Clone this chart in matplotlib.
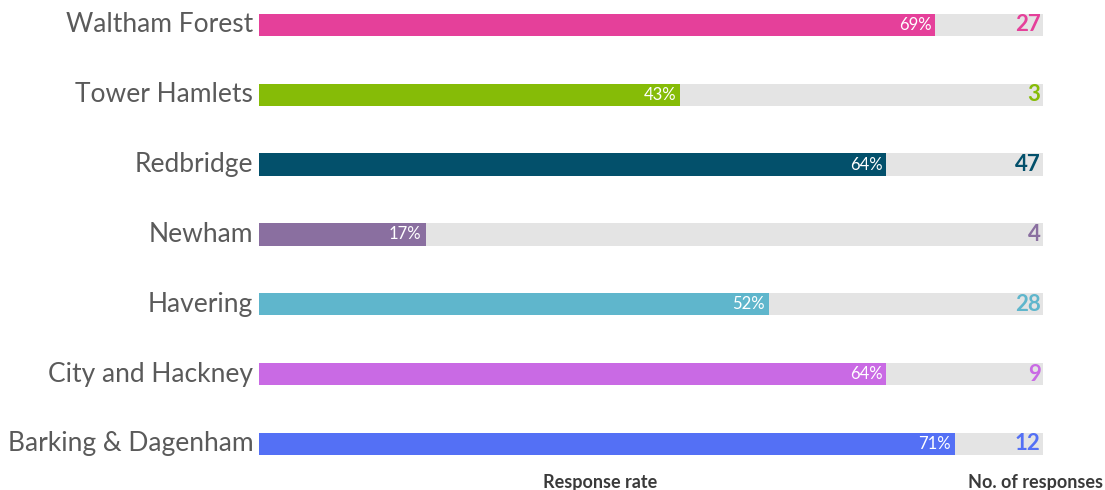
import matplotlib
matplotlib.use('Agg')
import matplotlib.pyplot as plt

matplotlib.rcParams['font.family'] = 'Lato'

# data, top to bottom as in the chart
boroughs = ['Waltham Forest', 'Tower Hamlets', 'Redbridge', 'Newham',
            'Havering', 'City and Hackney', 'Barking & Dagenham']
rate = [69, 43, 64, 17, 52, 64, 71]
responses = [27, 3, 47, 4, 28, 9, 12]
colours = ['#e5409a', '#86bc07', '#03506b', '#8a6fa0',
           '#5fb6cc', '#c96ae4', '#5470f5']
scale_max = 80

fig = plt.figure(figsize=(11.05, 4.9), dpi=100)
ax = fig.add_axes([0.2344, 0, 0.7095, 1])

n = len(boroughs)
ypos = [n - 1 - i for i in range(n)]

# grey track behind every bar
ax.barh(ypos, [scale_max] * n, height=0.32, color='#e4e4e4', zorder=1)
ax.barh(ypos, rate, height=0.32, color=colours, zorder=2)

for y, name, r, cnt, c in zip(ypos, boroughs, rate, responses, colours):
    ax.text(-0.6, y, name, ha='right', va='center', fontsize=19,
            color='#5a5a5a')
    ax.text(r - 0.4, y, '{}%'.format(r), ha='right', va='center',
            fontsize=12, color='white', zorder=3)
    ax.text(scale_max - 0.25, y, str(cnt), ha='right', va='center',
            fontsize=16, fontweight='bold', color=c, zorder=3)

ax.text(34.8, -0.55, 'Response rate', ha='center', va='center',
        fontsize=13, fontweight='bold', color='#3a3a3a')
ax.text(79.2, -0.55, 'No. of responses', ha='center', va='center',
        fontsize=13, fontweight='bold', color='#3a3a3a')

ax.set_xlim(0, scale_max)
ax.set_ylim(-0.659, 6.358)
ax.axis('off')

plt.savefig('out.png', dpi=100)
